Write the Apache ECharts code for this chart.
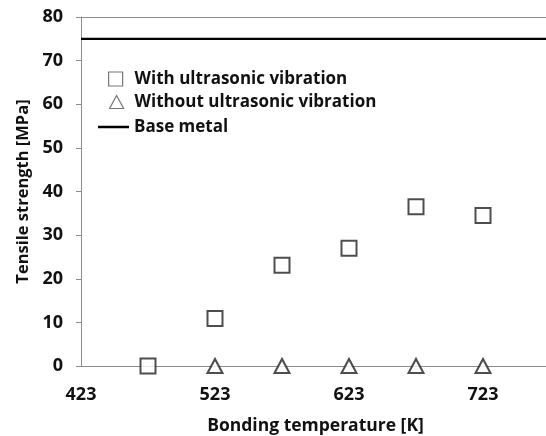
<!DOCTYPE html>
<html>
<head>
<meta charset="utf-8">
<script src="https://cdn.jsdelivr.net/npm/echarts@6/dist/echarts.min.js"></script>
<style>
html,body{margin:0;padding:0;background:#fff;}
#chart{width:546px;height:436px;}
</style>
</head>
<body>
<div id="chart"></div>
<script>
// Data
var withUSTemps = [473, 523, 573, 623, 673, 723];
var withUSValues = [0, 10.9, 23.1, 27.0, 36.5, 34.5];
var withoutUSTemps = [523, 573, 623, 673, 723];
var withoutUSValues = [0, 0, 0, 0, 0];
var baseMetalValue = 75;
var xMin = 423, xMax = 773, xStep = 100;
var yMin = 0, yMax = 80, yStep = 10;

var FONT = 'Open Sans';
var TXT = '#111';
var AXIS = '#8c8c8c';

var chart = echarts.init(document.getElementById('chart'), null, {renderer: 'canvas'});

var withData = withUSTemps.map(function (t, i) { return [t, withUSValues[i]]; });
var withoutData = withoutUSTemps.map(function (t, i) { return [t, withoutUSValues[i]]; });
var baseData = [[xMin, baseMetalValue], [xMax, baseMetalValue]];

function legendStyle(pad) {
  return {fontFamily: FONT, fontWeight: 'bold', fontSize: 17, color: TXT, lineHeight: 20, padding: [0, 0, 0, pad]};
}

chart.setOption({
  animation: false,
  backgroundColor: '#fff',
  grid: {left: 81, top: 17, right: -4, bottom: 70, containLabel: false, outerBoundsMode: 'none'},
  legend: [
    {
      left: 108, top: 69, itemWidth: 14, itemHeight: 14, selectedMode: false, padding: 0,
      data: [{name: 'With ultrasonic vibration', icon: 'rect', itemStyle: {color: '#fff', borderColor: '#555', borderWidth: 1.2}}],
      textStyle: legendStyle(7)
    },
    {
      left: 109, top: 92, itemWidth: 14, itemHeight: 13, selectedMode: false, padding: 0,
      data: [{name: 'Without ultrasonic vibration', icon: 'triangle', itemStyle: {color: '#fff', borderColor: '#555', borderWidth: 1.2}}],
      textStyle: legendStyle(6)
    },
    {
      left: 98, top: 117, itemWidth: 31, itemHeight: 2.5, selectedMode: false, padding: 0,
      data: [{name: 'Base metal', icon: 'rect', itemStyle: {color: '#000', borderWidth: 0}}],
      textStyle: legendStyle(0)
    }
  ],
  xAxis: [
    {
      type: 'value', min: xMin, max: xMax, interval: xStep,
      position: 'bottom',
      name: 'Bonding temperature [K]', nameLocation: 'middle', nameGap: 51,
      nameTextStyle: {fontFamily: FONT, fontWeight: 'bold', fontSize: 17.5, color: TXT},
      axisLine: {show: true, onZero: false, lineStyle: {color: AXIS, width: 1}},
      axisTick: {show: false},
      splitLine: {show: false},
      axisLabel: {
        margin: 20, fontFamily: FONT, fontWeight: 'bold', fontSize: 18, color: TXT,
        showMaxLabel: false,
        formatter: function (v) { return ((v - xMin) % xStep === 0 && v <= 723) ? String(v) : ''; }
      }
    },
    {
      type: 'value', min: xMin, max: xMax, interval: xStep,
      position: 'top',
      axisLine: {show: true, onZero: false, lineStyle: {color: AXIS, width: 1}},
      axisTick: {show: false}, axisLabel: {show: false}, splitLine: {show: false}
    }
  ],
  yAxis: {
    type: 'value', min: yMin, max: yMax, interval: yStep,
    name: 'Tensile strength [MPa]', nameLocation: 'middle', nameGap: 41,
    nameTextStyle: {fontFamily: FONT, fontWeight: 'bold', fontSize: 16.5, color: TXT},
    axisLine: {show: true, lineStyle: {color: AXIS, width: 1}},
    axisTick: {show: true, length: 5, inside: false, lineStyle: {color: AXIS, width: 1}},
    splitLine: {show: false},
    axisLabel: {margin: 18, fontFamily: FONT, fontWeight: 'bold', fontSize: 18, color: TXT}
  },
  series: [
    {
      name: 'Base metal', type: 'line', data: baseData, xAxisIndex: 0,
      symbol: 'none', showSymbol: false, clip: false,
      lineStyle: {color: '#000', width: 2.2},
      itemStyle: {color: '#000'},
      z: 2
    },
    {
      name: 'With ultrasonic vibration', type: 'scatter', data: withData, xAxisIndex: 0,
      symbol: 'rect', symbolSize: 15, clip: false,
      itemStyle: {color: '#fff', borderColor: '#222', borderWidth: 2},
      z: 3
    },
    {
      name: 'Without ultrasonic vibration', type: 'scatter', data: withoutData, xAxisIndex: 0,
      symbol: 'triangle', symbolSize: [15, 14], clip: false,
      itemStyle: {color: '#fff', borderColor: '#222', borderWidth: 2},
      z: 3
    }
  ]
});
</script>
</body>
</html>
